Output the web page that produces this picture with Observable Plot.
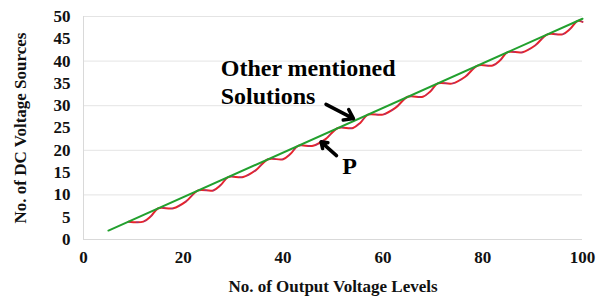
<!DOCTYPE html>
<html>
<head>
<meta charset="utf-8">
<script src="https://cdn.jsdelivr.net/npm/d3@7"></script>
<script src="https://cdn.jsdelivr.net/npm/@observablehq/plot@0.6"></script>
<style>
  html, body { margin: 0; padding: 0; background: #fff; }
  #chart { width: 603px; height: 301px; }
</style>
</head>
<body>
<div id="chart"></div>
<script>
// Green series: "Other mentioned Solutions"
const otherLevels = [5, 100];
const otherSources = [2, 49.5];

// Red series: proposed topology "P"
const pLevels = [9,12,13.5,15,18,20.5,23,26,27.5,29,32,34.5,37,40,41.5,43,46,48.5,51,54,55.5,57,60,62.5,65,68,69.5,71,74,76.5,79,82,83.5,85,88,90.5,93,96,97.5,99,100];
const pSources = [4,4,5.2,7,7,8.5,11,11,12.2,14,14,15.5,18,18,19.2,21,21,22.5,25,25,26.2,28,28,29.5,32,32,33.2,35,35,36.5,39,39,40.2,42,42,43.5,46,46,47.2,49,48.8];

const xTicks = [0, 20, 40, 60, 80, 100];
const yTicks = [0, 5, 10, 15, 20, 25, 30, 35, 40, 45, 50];
const yGrid = [10, 20, 30, 40, 50];

const xTitle = "No. of Output Voltage Levels";
const yTitle = "No. of DC Voltage Sources";

// annotations
const labelOther = ["Other mentioned", "Solutions"];
const labelOtherX = [27.5, 27.5];
const labelOtherY = [38.3, 32.0];
const labelP = ["P"];
const labelPX = [53.3];
const labelPY = [16.3];
const arrowX1 = [48.6, 50.7];
const arrowY1 = [30.3, 18.8];
const arrowX2 = [54.1, 47.6];
const arrowY2 = [27.1, 21.9];

const other = otherLevels.map((x, i) => ({x, y: otherSources[i]}));
const p = pLevels.map((x, i) => ({x, y: pSources[i]}));
const otherLabels = labelOther.map((t, i) => ({t, x: labelOtherX[i], y: labelOtherY[i]}));
const pLabels = labelP.map((t, i) => ({t, x: labelPX[i], y: labelPY[i]}));
const arrows = arrowX1.map((x1, i) => ({x1, y1: arrowY1[i], x2: arrowX2[i], y2: arrowY2[i]}));

const serif = "Liberation Serif";

const chart = Plot.plot({
  width: 603,
  height: 301,
  marginLeft: 83,
  marginRight: 21,
  marginTop: 16,
  marginBottom: 62,
  style: {fontFamily: serif, fontWeight: "bold", fontSize: "17px", color: "#111", background: "#fff"},
  x: {domain: [0, 100]},
  y: {domain: [0, 50]},
  marks: [
    Plot.ruleY(yGrid, {stroke: "#e4e4e4", strokeWidth: 1}),
    Plot.ruleY([0], {stroke: "#d9d9d9", strokeWidth: 1}),
    Plot.ruleX([0], {stroke: "#d9d9d9", strokeWidth: 1}),
    Plot.axisX({ticks: xTicks, tickSize: 0, tickPadding: 11, label: null, fontSize: 17, fontWeight: "bold", fontFamily: serif}),
    Plot.axisY({ticks: yTicks, tickSize: 0, tickPadding: 13, label: null, fontSize: 17, fontWeight: "bold", fontFamily: serif}),
    Plot.text([xTitle], {frameAnchor: "bottom", dy: 52, fontSize: 17, fontWeight: "bold", fill: "#111", fontFamily: serif}),
    Plot.text([yTitle], {frameAnchor: "left", textAnchor: "middle", rotate: -90, dx: -63, fontSize: 17, fontWeight: "bold", fill: "#111", fontFamily: serif}),
    Plot.line(p, {x: "x", y: "y", stroke: "#e8232a", strokeWidth: 2, curve: "catmull-rom"}),
    Plot.line(p, {x: "x", y: "y", stroke: "#4a4ad0", strokeWidth: 1, strokeDasharray: "2,6", curve: "catmull-rom", strokeOpacity: 0.6}),
    Plot.line(other, {x: "x", y: "y", stroke: "#22a02e", strokeWidth: 2}),
    Plot.arrow(arrows, {x1: "x1", y1: "y1", x2: "x2", y2: "y2", stroke: "#000", strokeWidth: 3.5, headLength: 10, headAngle: 70}),
    Plot.text(otherLabels, {x: "x", y: "y", text: "t", textAnchor: "start", lineAnchor: "middle", fontSize: 24, fontWeight: "bold", fill: "#000", fontFamily: serif}),
    Plot.text(pLabels, {x: "x", y: "y", text: "t", textAnchor: "middle", lineAnchor: "middle", fontSize: 24, fontWeight: "bold", fill: "#000", fontFamily: serif})
  ]
});
document.getElementById("chart").appendChild(chart);
</script>
</body>
</html>
